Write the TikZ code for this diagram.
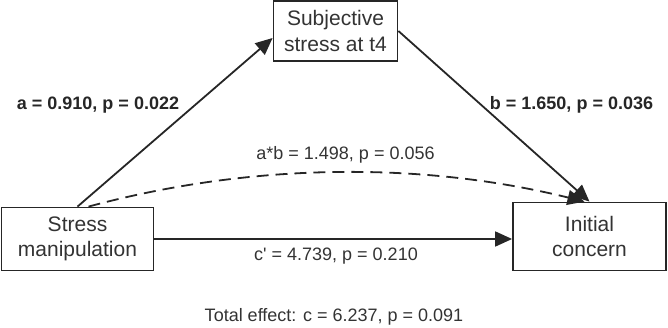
\documentclass[tikz,border=0pt]{standalone}
\usepackage{fontspec}
\setmainfont{Liberation Sans}
\usetikzlibrary{arrows.meta}
\begin{document}
\begin{tikzpicture}[x=1pt,y=-1pt,
  box/.style={draw=black!85, line width=1.8pt, inner sep=0pt, align=center,
    text=black!80, font=\fontsize{21}{25.5}\selectfont},
  arr/.style={-{Triangle[length=17pt,width=15pt]}, line width=1.8pt, draw=black!85},
  lab/.style={text=black!80, inner sep=0pt, font=\fontsize{18}{20}\selectfont},
  blab/.style={text=black!85, inner sep=0pt, font=\fontsize{18}{20}\selectfont\bfseries}
]
\useasboundingbox (0,0) rectangle (668,328);
\node[box, minimum width=124pt, minimum height=60pt] (subj) at (335.5,31) {Subjective\\stress at t4};
\node[box, minimum width=152pt, minimum height=63pt] (stress) at (77.5,239) {Stress\\manipulation};
\node[box, minimum width=153pt, minimum height=68pt] (init) at (589.5,236.5) {Initial\\concern};

\draw[arr] (stress.north) -- ([yshift=-7pt]subj.west);
\draw[arr] (subj.east) -- (init.north);
\draw[arr, dash pattern=on 12pt off 7pt] ([xshift=11pt]stress.north) .. controls (250,163) and (420,161) .. ([xshift=-5pt]init.north);
\draw[arr] (stress.east) -- (stress.east -| init.west);

\node[blab] (la) at (98,105) {a = 0.910, p = 0.022};
\node[blab] (lb) at (571.5,105) {b = 1.650, p = 0.036};
\node[lab] (lab) at (345.5,155) {a*b = 1.498, p = 0.056};
\node[lab] (lc) at (336,256) {c\textquotesingle{} = 4.739, p = 0.210};
\node[lab] (lt) at (334,317) {Total effect: c = 6.237, p = 0.091};
\end{tikzpicture}
\end{document}
